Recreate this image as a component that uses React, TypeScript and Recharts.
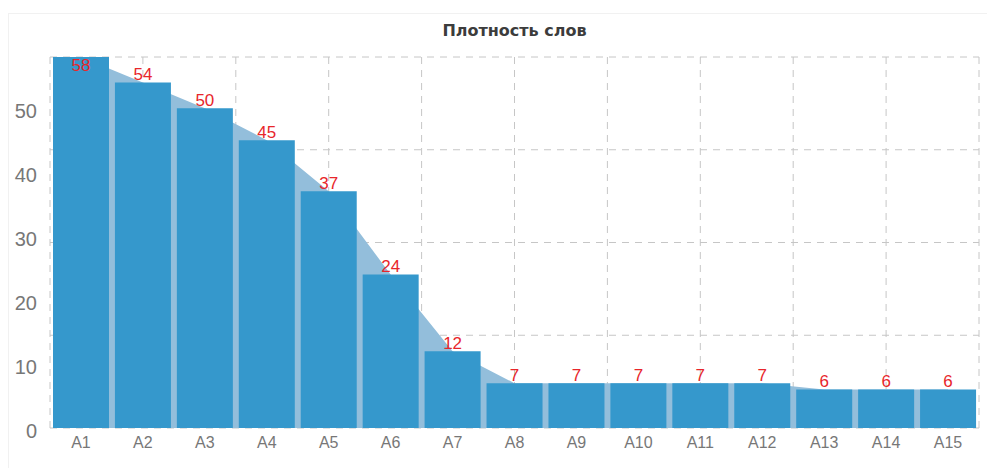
import { ComposedChart, Area, Bar, XAxis, YAxis, CartesianGrid, LabelList } from 'recharts';

const categories = ['A1', 'A2', 'A3', 'A4', 'A5', 'A6', 'A7', 'A8', 'A9', 'A10', 'A11', 'A12', 'A13', 'A14', 'A15'];
const values = [58, 54, 50, 45, 37, 24, 12, 7, 7, 7, 7, 7, 6, 6, 6];
const yTicks = [0, 10, 20, 30, 40, 50];
const title = 'Плотность слов';

const MARGIN = { top: 57, right: 8, bottom: 0, left: 8 };

const data = categories.map((name, i) => ({ name, value: values[i] }));

// grid is drawn on its own even divisions, not on the ticks
const vGrid = ({ offset }: any) =>
  Array.from({ length: 11 }, (_, i) => offset.left + (i * offset.width) / 10);
const hGrid = ({ offset }: any) =>
  Array.from({ length: 5 }, (_, i) => offset.top + (i * offset.height) / 4);

function ValueLabel(props: any) {
  const { x, y, width, value } = props;
  let cy = y - 8;
  if (cy - 6 < MARGIN.top) cy = y + 8; // keep the top label inside the plot
  return (
    <text
      x={x + width / 2}
      y={cy}
      textAnchor="middle"
      dominantBaseline="central"
      fill="#e8262b"
      fontSize={17}
    >
      {value}
    </text>
  );
}

export default function App() {
  return (
    <div
      style={{
        position: 'absolute',
        left: 0,
        top: 0,
        width: 987,
        height: 468,
        background: '#fff',
        fontFamily: '"Liberation Sans", Arial, sans-serif',
      }}
    >
      <div
        style={{
          position: 'absolute',
          left: 8,
          top: 13,
          right: 0,
          bottom: 0,
          borderTop: '1px solid #f1f1f1',
          borderLeft: '1px solid #f1f1f1',
        }}
      />
      <div
        style={{
          position: 'absolute',
          left: 50,
          width: 929,
          top: 21,
          textAlign: 'center',
          fontSize: 16,
          fontWeight: 'bold',
          color: '#3c3c3c',
          fontFamily: '"DejaVu Sans", sans-serif',
        }}
      >
        {title}
      </div>
      <ComposedChart width={987} height={468} data={data} margin={MARGIN} barCategoryGap={3}>
        <CartesianGrid
          stroke="#c6c6c6"
          strokeDasharray="7 6"
          verticalCoordinatesGenerator={vGrid}
          horizontalCoordinatesGenerator={hGrid}
        />
        <XAxis
          dataKey="name"
          height={40}
          axisLine={false}
          tickLine={false}
          tickSize={0}
          tickMargin={9}
          interval={0}
          tick={{ fontSize: 16, fill: '#777' }}
        />
        <YAxis
          width={42}
          domain={[0, 58]}
          ticks={yTicks}
          axisLine={false}
          tickLine={false}
          tickSize={0}
          tickMargin={13}
          tick={{ fontSize: 20, fill: '#777', dy: 3 }}
        />
        <Area
          type="linear"
          dataKey="value"
          stroke="none"
          fill="#93bedb"
          fillOpacity={1}
          isAnimationActive={false}
        />
        <Bar dataKey="value" fill="#3598cc" isAnimationActive={false}>
          <LabelList dataKey="value" content={ValueLabel} />
        </Bar>
      </ComposedChart>
    </div>
  );
}
